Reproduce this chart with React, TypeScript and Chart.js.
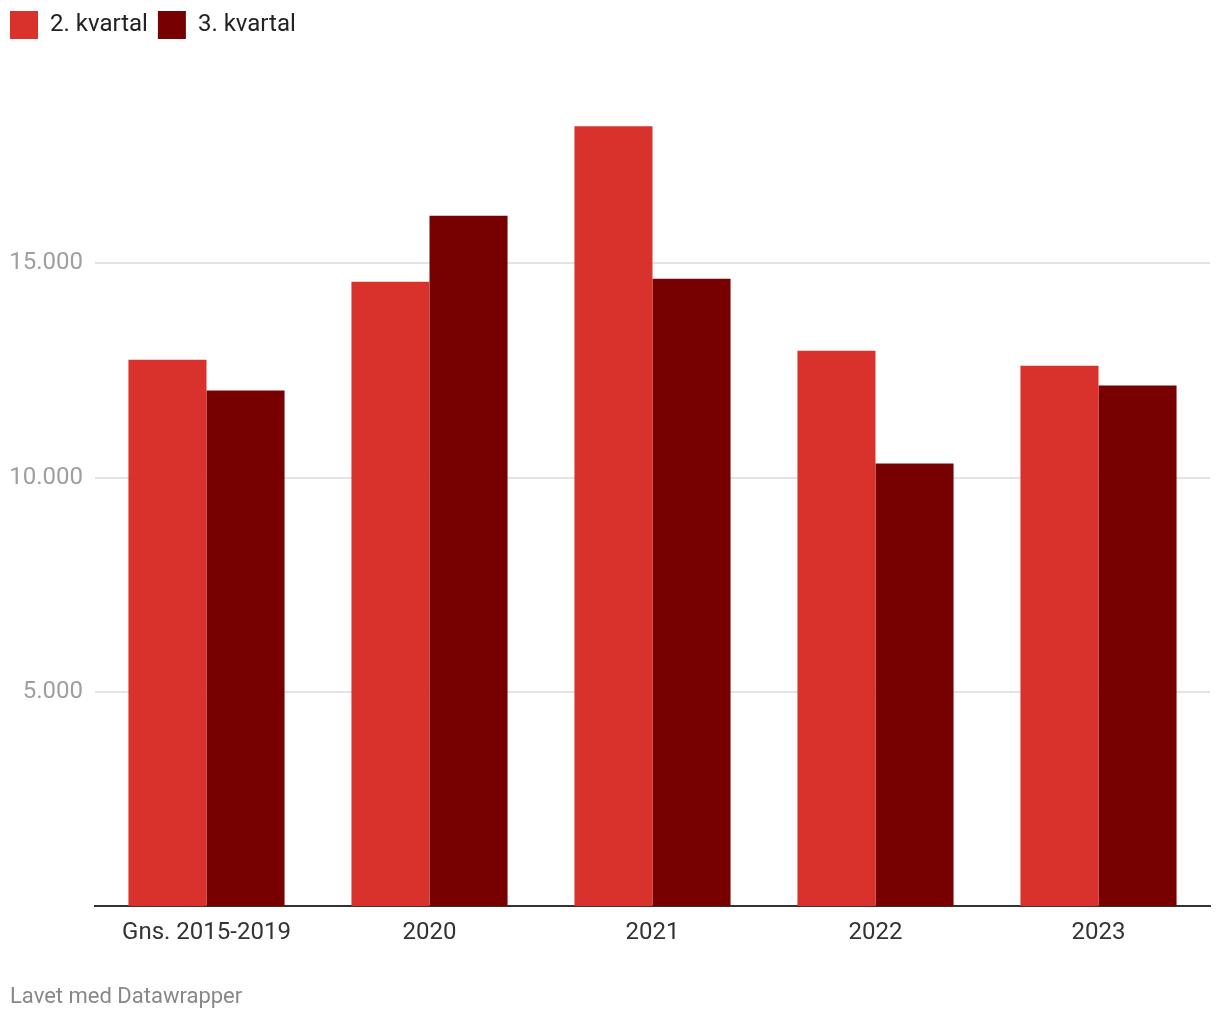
import React, { useEffect, useRef } from "react";
import { Chart, registerables } from "chart.js";

Chart.register(...registerables);

const categories = ["Gns. 2015-2019", "2020", "2021", "2022", "2023"];
const q2Values = [12750, 14570, 18200, 12960, 12610];
const q3Values = [12030, 16110, 14640, 10330, 12150];
const seriesLabels = ["2. kvartal", "3. kvartal"];
const yTicks = [5000, 10000, 15000];
const footerText = "Lavet med Datawrapper";

const fmt = (v: number) => v.toLocaleString("da-DK").replace(/,/g, ".");

const footerPlugin = {
  id: "footerText",
  afterDraw(chart: any) {
    const c = chart.ctx;
    c.save();
    c.font = "22px Roboto";
    c.fillStyle = "#888";
    c.textAlign = "left";
    c.textBaseline = "middle";
    c.fillText(footerText, 10, 997);
    c.restore();
  },
};

export default function App() {
  const ref = useRef<HTMLCanvasElement | null>(null);
  useEffect(() => {
    document.body.style.margin = "0";
    const ctx = ref.current!;
    const chart = new Chart(ctx, {
      type: "bar",
      data: {
        labels: categories,
        datasets: [
          { label: seriesLabels[0], data: q2Values, backgroundColor: "#d9322c", categoryPercentage: 0.7, barPercentage: 1.0 },
          { label: seriesLabels[1], data: q3Values, backgroundColor: "#770000", categoryPercentage: 0.7, barPercentage: 1.0 },
        ],
      },
      plugins: [footerPlugin],
      options: {
        animation: false,
        responsive: false,
        maintainAspectRatio: false,
        layout: { padding: { left: 0, right: 10, top: 1, bottom: 61 } },
        plugins: {
          tooltip: { enabled: false },
          title: { display: false },
          legend: {
            display: true,
            position: "top",
            align: "start",
            labels: {
              boxWidth: 28,
              boxHeight: 28,
              padding: 10,
              color: "#222",
              font: { family: "Roboto", size: 24 },
            },
          },
        },
        scales: {
          x: {
            grid: { display: false, drawTicks: false },
            border: { display: true, color: "#333", width: 2 },
            ticks: { color: "#333", font: { family: "Roboto", size: 24 }, padding: 12, maxRotation: 0 },
          },
          y: {
            min: 0,
            max: 20000,
            afterBuildTicks: (scale: any) => {
              scale.ticks = yTicks.map((v) => ({ value: v }));
            },
            afterFit: (scale: any) => {
              scale.width = 95;
            },
            grid: { color: "#e3e3e3", lineWidth: 2, drawTicks: false },
            border: { display: false },
            ticks: {
              crossAlign: "near",
              padding: 12,
              color: "#9f9f9f",
              font: { family: "Roboto", size: 24 },
              callback: (v: any) => fmt(Number(v)),
            },
          },
        },
      },
    });
    return () => chart.destroy();
  }, []);
  return (
    <div style={{ width: 1220, height: 1020 }}>
      <canvas ref={ref} width={1220} height={1020} style={{ display: "block" }} />
    </div>
  );
}
